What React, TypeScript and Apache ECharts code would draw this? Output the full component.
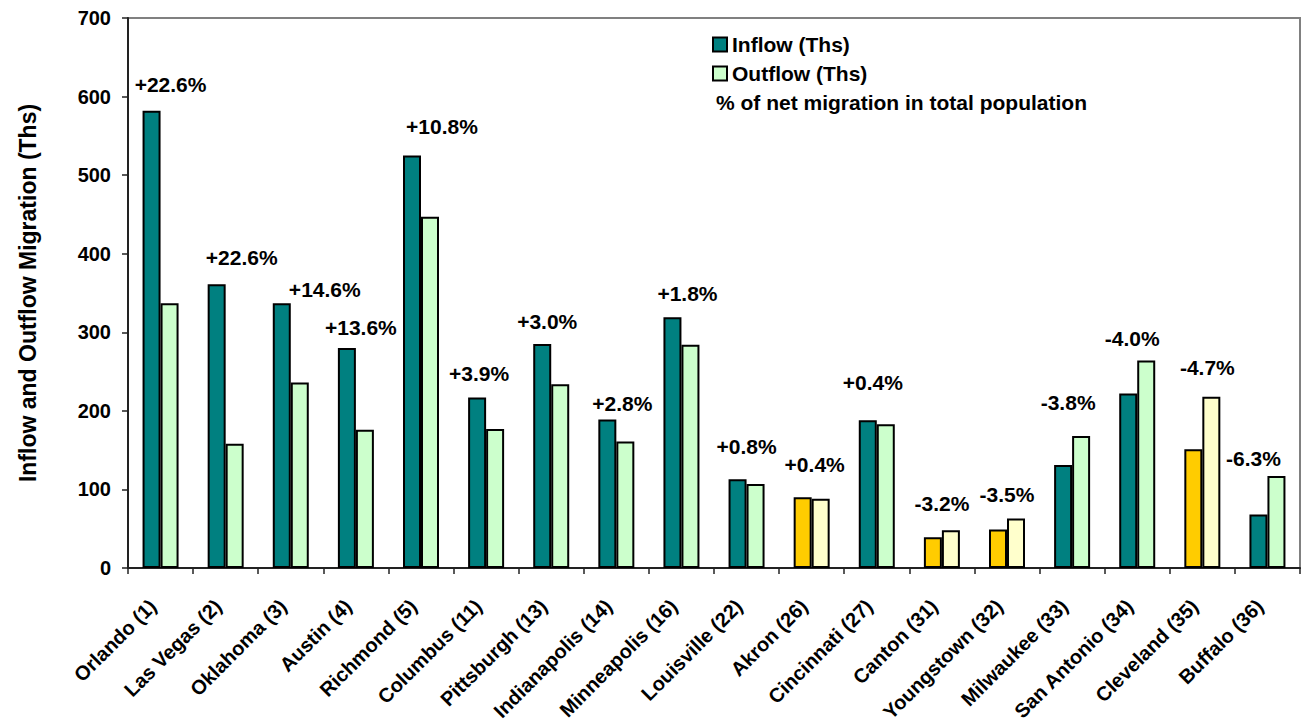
import React, { useEffect, useRef } from "react";
import * as echarts from "echarts";

const categories = [
  "Orlando (1)", "Las Vegas (2)", "Oklahoma (3)", "Austin (4)", "Richmond (5)",
  "Columbus (11)", "Pittsburgh (13)", "Indianapolis (14)", "Minneapolis (16)",
  "Louisville (22)", "Akron (26)", "Cincinnati (27)", "Canton (31)",
  "Youngstown (32)", "Milwaukee (33)", "San Antonio (34)", "Cleveland (35)", "Buffalo (36)",
];
const inflow = [582, 361, 337, 280, 525, 217, 285, 189, 319, 113, 90, 188, 39, 49, 131, 222, 151, 68];
const outflow = [337, 158, 236, 176, 447, 177, 234, 161, 284, 107, 88, 183, 48, 63, 168, 264, 218, 117];
const netPct = [
  "+22.6%", "+22.6%", "+14.6%", "+13.6%", "+10.8%", "+3.9%", "+3.0%", "+2.8%", "+1.8%",
  "+0.8%", "+0.4%", "+0.4%", "-3.2%", "-3.5%", "-3.8%", "-4.0%", "-4.7%", "-6.3%",
];
// Ohio metro areas highlighted in yellow
const highlighted = ["Akron (26)", "Canton (31)", "Youngstown (32)", "Cleveland (35)"];
// height (in Ths, on the value axis) at which each percentage label sits
const labelHeight = [615, 395, 354, 306, 562, 247, 314, 210, 349, 155, 132, 236, 82, 93, 211, 292, 255, 139];

// layout nudges for labels (px)
const labelNudge = [10, 16, 34, 5, 21, -7, -4, 6, 6, 0, 3, -4, 0, 0, -4, -5, 5, -14];

const FONT = "'Liberation Sans', Arial, Helvetica, sans-serif";
const TEAL = "#008080";
const MINT = "#CCFFCC";
const GOLD = "#FFCC00";
const CREAM = "#FFFFCC";

export default function App() {
  const ref = useRef<HTMLDivElement>(null);

  useEffect(() => {
    if (!ref.current) return;
    const chart = echarts.init(ref.current, null, { renderer: "svg" });

    const barBorder = { borderColor: "#000", borderWidth: 2 };

    const inflowData = inflow.map((v, i) => ({
      value: v,
      itemStyle: highlighted.includes(categories[i]) ? { color: GOLD } : undefined,
    }));
    const outflowData = outflow.map((v, i) => ({
      value: v,
      itemStyle: highlighted.includes(categories[i]) ? { color: CREAM } : undefined,
    }));
    const labelData = netPct.map((p, i) => ({
      value: [i, labelHeight[i]],
      name: p,
      label: { offset: [labelNudge[i], 0] },
    }));

    chart.setOption({
      animation: false,
      backgroundColor: "#fff",
      textStyle: { fontFamily: FONT },
      grid: {
        left: 128,
        right: 1,
        top: 18,
        bottom: 158,
        show: true,
        borderColor: "#808080",
        borderWidth: 2,
        backgroundColor: "transparent",
      },
      legend: {
        data: ["Inflow (Ths)", "Outflow (Ths)"],
        orient: "vertical",
        left: 712,
        top: 34,
        padding: 0,
        icon: "rect",
        itemWidth: 14,
        itemHeight: 14,
        itemGap: 8,
        selectedMode: false,
        textStyle: {
          fontFamily: FONT,
          fontSize: 21,
          fontWeight: "bold",
          color: "#000",
          lineHeight: 21,
        },
      },
      graphic: [
        {
          type: "text",
          left: 716,
          top: 92,
          style: {
            text: "% of net migration in total population",
            font: `bold 21px ${FONT}`,
            fill: "#000",
          },
        },
      ],
      xAxis: {
        type: "category",
        data: categories,
        boundaryGap: true,
        axisLine: { lineStyle: { color: "#222", width: 2 } },
        axisTick: { show: true, length: 6, lineStyle: { color: "#222", width: 1.5 } },
        axisLabel: {
          interval: 0,
          rotate: 45,
          margin: 27,
          padding: [0, 11, 0, 0],
          fontFamily: FONT,
          fontSize: 20,
          fontWeight: "bold",
          color: "#000",
        },
      },
      yAxis: {
        type: "value",
        min: 0,
        max: 700,
        interval: 100,
        name: "Inflow and Outflow Migration (Ths)",
        nameLocation: "middle",
        nameGap: 89,
        nameTextStyle: {
          fontFamily: FONT,
          fontSize: 23,
          fontWeight: "bold",
          color: "#000",
        },
        axisLine: { show: true, lineStyle: { color: "#222", width: 2 } },
        axisTick: { show: true, length: 6, lineStyle: { color: "#222", width: 1.5 } },
        splitLine: { show: false },
        axisLabel: {
          margin: 17,
          fontFamily: FONT,
          fontSize: 20,
          fontWeight: "bold",
          color: "#000",
        },
      },
      series: [
        {
          name: "Inflow (Ths)",
          type: "bar",
          data: inflowData,
          barWidth: 18,
          barGap: "0%",
          itemStyle: { color: TEAL, ...barBorder },
        },
        {
          name: "Outflow (Ths)",
          type: "bar",
          data: outflowData,
          barWidth: 18,
          barGap: "0%",
          itemStyle: { color: MINT, ...barBorder },
        },
        {
          name: "% of net migration in total population",
          type: "scatter",
          data: labelData,
          symbolSize: 0,
          silent: true,
          z: 10,
          itemStyle: { color: "#000", opacity: 1 },
          label: {
            show: true,
            position: "inside",
            formatter: (p: any) => p.name,
            fontFamily: FONT,
            fontSize: 21,
            fontWeight: "bold",
            color: "#000",
            opacity: 1,
            textBorderWidth: 0,
          },
        },
      ],
    });

    return () => chart.dispose();
  }, []);

  return (
    <div
      ref={ref}
      style={{ position: "fixed", left: 0, top: 0, width: 1301, height: 726, background: "#fff" }}
    />
  );
}
